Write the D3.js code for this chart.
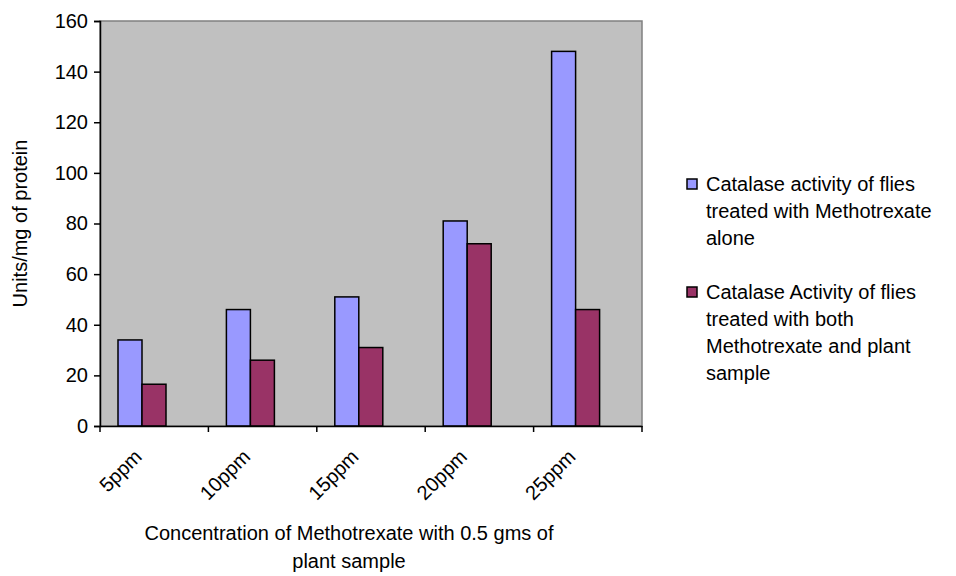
<!DOCTYPE html>
<html>
<head>
<meta charset="utf-8">
<script src="https://d3js.org/d3.v7.min.js"></script>
<style>
body{margin:0;background:#fff;}
text{font-family:Arial,"Liberation Sans",sans-serif;fill:#000;}
</style>
</head>
<body>
<svg></svg>
<script>
var categories=["5ppm","10ppm","15ppm","20ppm","25ppm"]
var aloneValues=[34,46,51,81,148]
var plantValues=[16.5,26,31,72,46]
var yTicks=[0,20,40,60,80,100,120,140,160]
var seriesNames=[
    ["Catalase activity of flies","treated with Methotrexate","alone"],
    ["Catalase Activity of flies","treated with both","Methotrexate and plant","sample"]
]
var colors=["#9999FF","#993366"]

var screen={width:956,height:576}
var plot={left:100,top:21,right:642,bottom:426}

var svg=d3.select("svg")
    .attr("width",screen.width)
    .attr("height",screen.height)

var xScale=d3.scaleBand()
    .domain(categories)
    .range([plot.left,plot.right])

var yScale=d3.scaleLinear()
    .domain([0,160])
    .range([plot.bottom,plot.top])

// plot background
svg.append("rect")
    .attr("x",plot.left)
    .attr("y",plot.top)
    .attr("width",plot.right-plot.left)
    .attr("height",plot.bottom-plot.top)
    .attr("fill","#C0C0C0")
    .attr("stroke","#808080")
    .attr("stroke-width",1.5)

var barWidth=24
var offset=18

var drawBars=function(values,k)
    {
        svg.append("g")
        .selectAll("rect")
        .data(values)
        .enter()
        .append("rect")
        .attr("x",function(v,i){return xScale(categories[i])+offset+k*barWidth})
        .attr("y",function(v){return yScale(v)})
        .attr("width",barWidth)
        .attr("height",function(v){return yScale(0)-yScale(v)})
        .attr("fill",colors[k])
        .attr("stroke","#000")
        .attr("stroke-width",1.5)
    }
drawBars(aloneValues,0)
drawBars(plantValues,1)

// y axis
var yAxis=d3.axisLeft(yScale)
    .tickValues(yTicks)
    .tickSize(6)
    .tickPadding(6)
var gy=svg.append("g")
    .attr("transform","translate("+plot.left+",0)")
    .call(yAxis)
gy.selectAll("path,line").attr("stroke","#000").attr("stroke-width",1.5)
gy.selectAll("text").style("font-size","20px").attr("fill","#000")

// x axis, ticks at category boundaries
var xAxis=d3.axisBottom(xScale)
    .tickSize(0)
    .tickFormat("")
var gx=svg.append("g")
    .attr("transform","translate(0,"+plot.bottom+")")
    .call(xAxis)
gx.select("path").attr("stroke","#000").attr("stroke-width",1.5)
var bounds=categories.map(function(c){return xScale(c)}).concat([plot.right])
gx.selectAll("line.bound")
    .data(bounds)
    .enter()
    .append("line")
    .attr("class","bound")
    .attr("x1",function(b){return b})
    .attr("x2",function(b){return b})
    .attr("y1",0)
    .attr("y2",6)
    .attr("stroke","#000")
    .attr("stroke-width",1.5)

svg.append("g")
    .selectAll("text")
    .data(categories)
    .enter()
    .append("text")
    .attr("transform",function(c){return "translate("+(xScale(c)+xScale.bandwidth()/2-21)+","+(plot.bottom+22)+") rotate(-45)"})
    .attr("text-anchor","end")
    .attr("dy","0.7em")
    .style("font-size","20px")
    .text(function(c){return c})

// axis titles
svg.append("text")
    .attr("transform","translate(27,"+((plot.top+plot.bottom)/2)+") rotate(-90)")
    .attr("text-anchor","middle")
    .style("font-size","20px")
    .text("Units/mg of protein")

svg.append("text")
    .attr("x",349)
    .attr("y",540)
    .attr("text-anchor","middle")
    .style("font-size","20px")
    .text("Concentration of Methotrexate with 0.5 gms of")
svg.append("text")
    .attr("x",349)
    .attr("y",568)
    .attr("text-anchor","middle")
    .style("font-size","20px")
    .text("plant sample")

// legend
var legendTop=[184,292]
seriesNames.forEach(function(lines,k)
    {
        var g=svg.append("g")
        g.append("rect")
            .attr("x",687)
            .attr("y",legendTop[k]-5)
            .attr("width",10)
            .attr("height",10)
            .attr("fill",colors[k])
            .attr("stroke","#000")
            .attr("stroke-width",1.5)
        g.selectAll("text")
            .data(lines)
            .enter()
            .append("text")
            .attr("x",706)
            .attr("y",function(l,i){return legendTop[k]+i*27})
            .attr("dy","0.35em")
            .style("font-size","20px")
            .text(function(l){return l})
    })
</script>
</body>
</html>
